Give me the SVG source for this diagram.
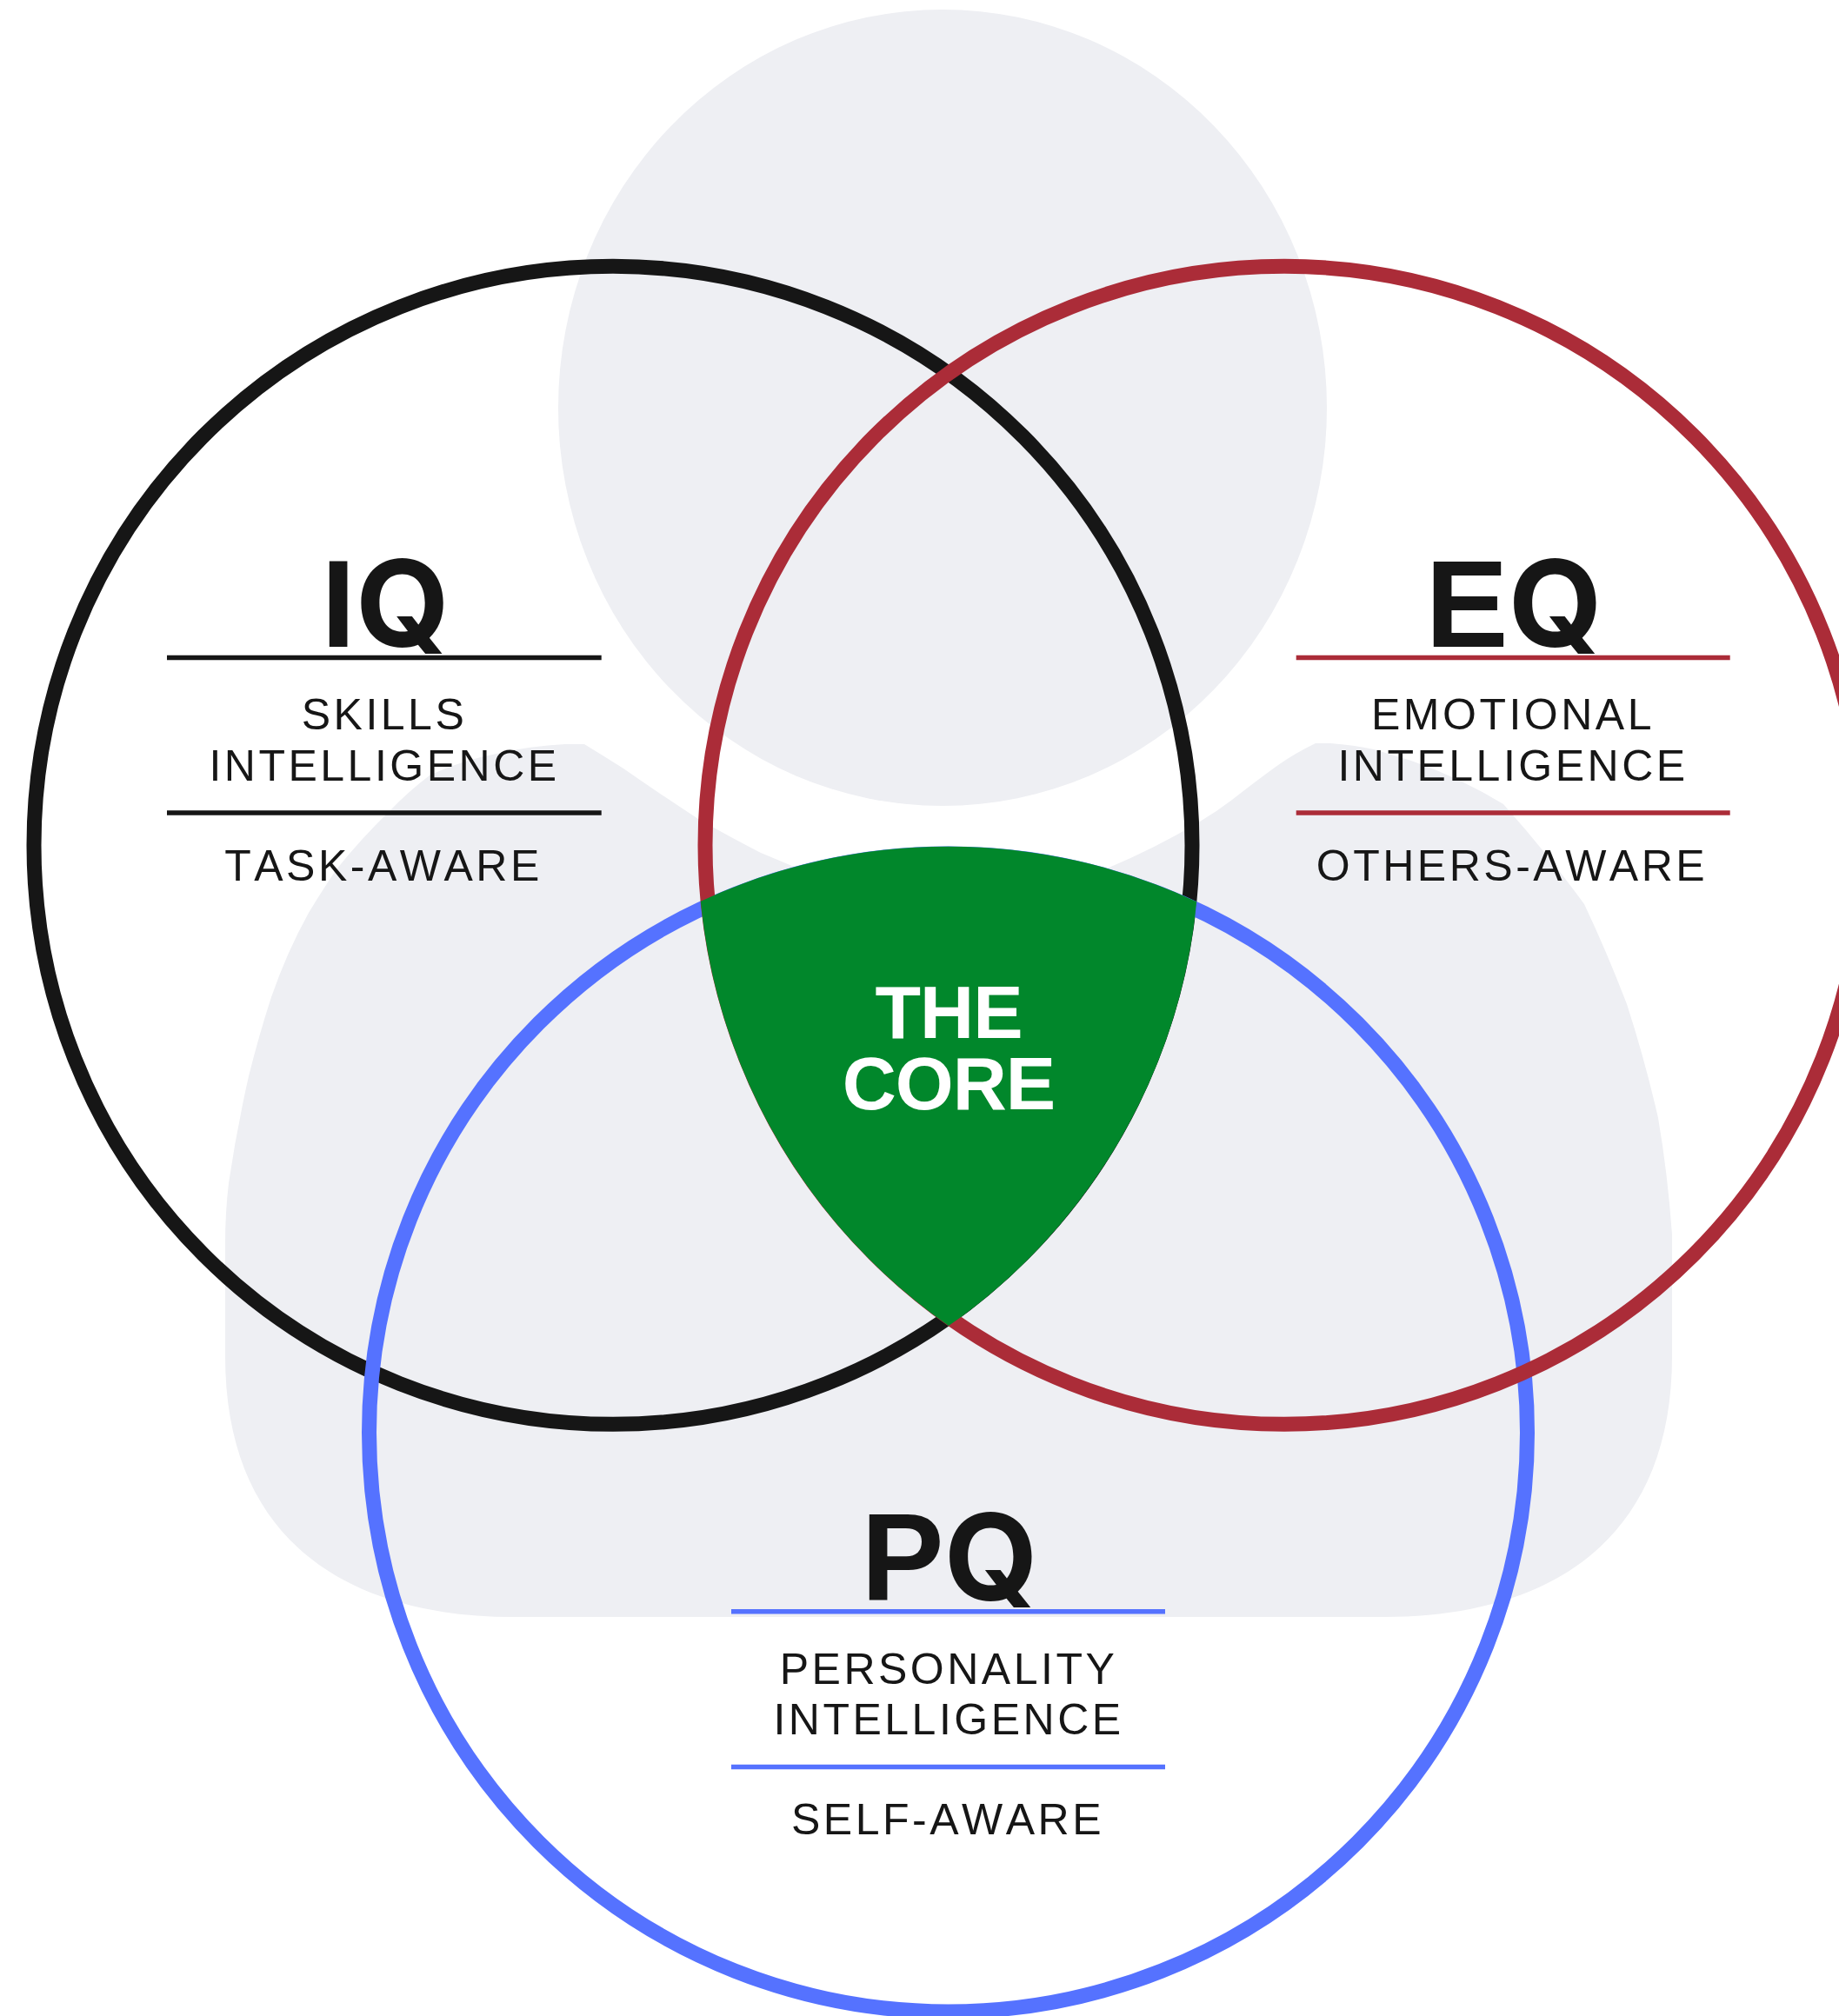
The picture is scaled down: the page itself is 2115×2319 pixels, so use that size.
<svg xmlns="http://www.w3.org/2000/svg" width="2115" height="2319" viewBox="0 0 2115 2319">
<style>
.bg{fill:#eeeff3}
.ring{fill:none;stroke-width:17}
.rule{stroke-width:5.6}
text{font-family:"Liberation Sans",Arial,sans-serif;text-anchor:middle;font-kerning:none}
.t{font-size:143px;font-weight:700;fill:#161616}
.q{font-family:Inter,"Liberation Sans",sans-serif;font-size:139px}
.s{font-size:50px;letter-spacing:3.5px;fill:#161616}
.c{font-size:86px;letter-spacing:-1px;font-weight:700;fill:#fff}
.k{stroke:#161616}.r{stroke:#ab2c38}.b{stroke:#5572ff}
</style>
<rect width="2115" height="2319" fill="#fff"/>
<g id="silhouette">
<ellipse class="bg" cx="1084" cy="469" rx="442" ry="458"/>
<path class="bg" d="M590 1860C410 1860 259 1780 259 1560L259 1430Q259 1395 263 1361Q272 1300 286 1238Q298 1190 312 1147Q330 1095 355 1050Q370 1025 387 1000Q415 965 448 933Q470 910 494 892Q530 875 571 867Q610 858 650 856L672 856Q695 870 717 884Q760 914 803 942Q840 963 875 981Q897 990 920 1000L1091 1060L1273 999Q1330 975 1380 945Q1400 933 1417 920Q1445 898 1470 880Q1490 866 1513 855L1530 855Q1557 857 1580 862Q1600 868 1623 875Q1680 895 1729 925Q1778 980 1822 1040Q1848 1095 1871 1155Q1892 1220 1907 1286Q1918 1350 1923 1420L1923 1560C1923 1780 1772 1860 1592 1860Z"/>
</g>
<g id="connectors">
<circle class="ring k" cx="705" cy="972.3" r="666"/>
<circle class="ring b" cx="1090.5" cy="1648" r="666"/>
<circle class="ring r" cx="1477" cy="972.3" r="666"/>
</g>
<g id="core">
<path fill="#01872b" d="M805.85 1036.75A674.25 674.25 0 0 1 1376.2 1037.2A674.25 674.25 0 0 1 1091 1525.1A674.25 674.25 0 0 1 805.85 1036.75Z"/>
<text class="c" x="1091" y="1194">THE</text>
<text class="c" x="1091" y="1276">CORE</text>
</g>
<g id="iq">
<text class="t" x="443" y="744">I<tspan class="q">Q</tspan></text>
<line class="rule k" x1="192" y1="756.5" x2="691.7" y2="756.5"/>
<text class="s" x="442" y="839">SKILLS</text>
<text class="s" x="442" y="897.7">INTELLIGENCE</text>
<line class="rule k" x1="192" y1="935" x2="691.7" y2="935"/>
<text class="s" x="441" y="1012.7">TASK-AWARE</text>
</g>
<g id="eq">
<text class="t" x="1741" y="744">E<tspan class="q">Q</tspan></text>
<line class="rule r" x1="1490.7" y1="756.5" x2="1989.7" y2="756.5"/>
<text class="s" x="1740" y="839">EMOTIONAL</text>
<text class="s" x="1740" y="897.7">INTELLIGENCE</text>
<line class="rule r" x1="1490.7" y1="935" x2="1989.7" y2="935"/>
<text class="s" x="1739" y="1012.7">OTHERS-AWARE</text>
</g>
<g id="pq">
<text class="t" x="1092" y="1841">P<tspan class="q">Q</tspan></text>
<line class="rule b" x1="841" y1="1853.8" x2="1340" y2="1853.8"/>
<text class="s" x="1091" y="1937">PERSONALITY</text>
<text class="s" x="1091" y="1995">INTELLIGENCE</text>
<line class="rule b" x1="841" y1="2032.5" x2="1340" y2="2032.5"/>
<text class="s" x="1090" y="2110">SELF-AWARE</text>
</g>
</svg>
